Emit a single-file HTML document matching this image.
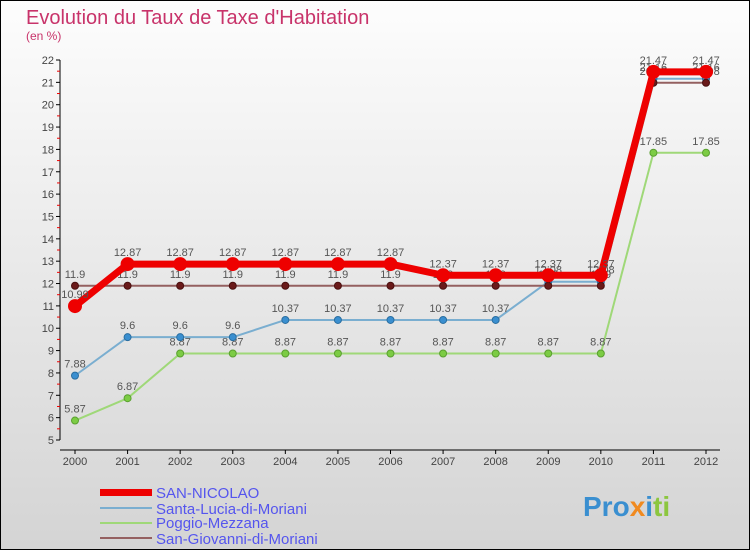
<!DOCTYPE html>
<html><head><meta charset="utf-8"><style>
body{margin:0;width:750px;height:550px;overflow:hidden;font-family:"Liberation Sans",sans-serif}
</style></head><body>
<svg width="750" height="550" xmlns="http://www.w3.org/2000/svg">
<defs><linearGradient id="bg" x1="0" y1="0" x2="0" y2="1"><stop offset="0" stop-color="#fdfdfd"/><stop offset="1" stop-color="#d4d4d4"/></linearGradient></defs>
<rect x="0.5" y="0.5" width="749" height="549" fill="url(#bg)" stroke="#000"/>
<text x="26" y="24" font-size="20" fill="#c8336a">Evolution du Taux de Taxe d'Habitation</text>
<text x="26" y="40" font-size="12" fill="#c8336a">(en %)</text>
<g id="axes"></g>
<g id="series"></g>
<g>
<rect x="100" y="489" width="52" height="7" fill="#e00"/>
<text x="156" y="498" font-size="15" fill="#5555ee">SAN-NICOLAO</text>
<line x1="100" y1="508" x2="152" y2="508" stroke="#7aaed0" stroke-width="2"/>
<text x="156" y="514" font-size="15" fill="#5555ee">Santa-Lucia-di-Moriani</text>
<line x1="100" y1="523" x2="152" y2="523" stroke="#9fd878" stroke-width="2"/>
<text x="156" y="528" font-size="15" fill="#5555ee">Poggio-Mezzana</text>
<line x1="100" y1="538" x2="152" y2="538" stroke="#946060" stroke-width="2"/>
<text x="156" y="544" font-size="15" fill="#5555ee">San-Giovanni-di-Moriani</text>
</g>
<text x="583" y="516" font-size="28" font-weight="bold"><tspan fill="#3a8fd0">Pro</tspan><tspan fill="#f08a20">x</tspan><tspan fill="#3a8fd0">i</tspan><tspan fill="#8cc63f">ti</tspan></text>
</svg>
<script>
const years=[2000,2001,2002,2003,2004,2005,2006,2007,2008,2009,2010,2011,2012];
const yTicks=[5,6,7,8,9,10,11,12,13,14,15,16,17,18,19,20,21,22];
const sanNicolao=[10.99,12.87,12.87,12.87,12.87,12.87,12.87,12.37,12.37,12.37,12.37,21.47,21.47];
const santaLucia=[7.88,9.6,9.6,9.6,10.37,10.37,10.37,10.37,10.37,12.08,12.08,21.16,21.16];
const poggio=[5.87,6.87,8.87,8.87,8.87,8.87,8.87,8.87,8.87,8.87,8.87,17.85,17.85];
const sanGiovanni=[11.9,11.9,11.9,11.9,11.9,11.9,11.9,11.9,11.9,11.9,11.9,20.98,20.98];
const NS="http://www.w3.org/2000/svg";
function xs(i){return 75+i*(706-75)/(years.length-1);}
function ys(v){return 60+(22-v)*380/17;}
function mk(tag,attrs,parent){const e=document.createElementNS(NS,tag);for(const k in attrs)e.setAttribute(k,attrs[k]);parent.appendChild(e);return e;}
const ax=document.getElementById('axes');
mk('line',{x1:60,y1:60,x2:60,y2:440,stroke:'#000'},ax);
mk('line',{x1:60,y1:450,x2:720,y2:450,stroke:'#000'},ax);
yTicks.forEach(v=>{
 mk('line',{x1:56,y1:ys(v),x2:60,y2:ys(v),stroke:'#000'},ax);
 if(v<22) mk('line',{x1:57,y1:ys(v+0.5),x2:60,y2:ys(v+0.5),stroke:'#e00'},ax);
 const t=mk('text',{x:54,y:ys(v)+4,'font-size':11,fill:'#444','text-anchor':'end'},ax);
 
 
 t.textContent=v;
});
years.forEach((y,i)=>{
 mk('line',{x1:xs(i),y1:450,x2:xs(i),y2:454,stroke:'#000'},ax);
 const t=mk('text',{x:xs(i),y:465,'font-size':11,fill:'#444','text-anchor':'middle'},ax);
 
 
 t.textContent=y;
});
const sg=document.getElementById('series');
function series(data,name,color,w,dot,dotFill,r){
 const g=mk('g',{},sg);
 
 
 let d='';
 data.forEach((v,i)=>{const x=xs(i),y=ys(v);d+=(i?'H'+x+'V'+y:'M'+x+' '+y);});
 // step-like between points? reference uses straight diagonal segments
 d='';data.forEach((v,i)=>{d+=(i?'L':'M')+xs(i)+' '+ys(v);});
 const p=mk('path',{d:d,fill:'none',stroke:color,'stroke-width':w,'stroke-linejoin':'round'},g);
 
 
 data.forEach((v,i)=>{
  const c=mk('circle',{cx:xs(i),cy:ys(v),r:r,fill:dotFill,stroke:dot,'stroke-width':1},g);
  
  
  const t=mk('text',{x:xs(i),y:ys(v)-8,'font-size':11,fill:'#555','text-anchor':'middle'},g);
  
  
  t.textContent=v;
 });
}
series(poggio,'poggio','#9fd878',2,'#5aa030','#7ccc44',3.5);
series(santaLucia,'santa-lucia','#7aaed0',2,'#2a6ea0','#3a8fd0',3.5);
series(sanGiovanni,'san-giovanni','#946060',2,'#4a1010','#6a1a1a',3.5);
series(sanNicolao,'san-nicolao','#ee0000',7,'#ee0000','#ee0000',6.5);
</script>
</body></html>
